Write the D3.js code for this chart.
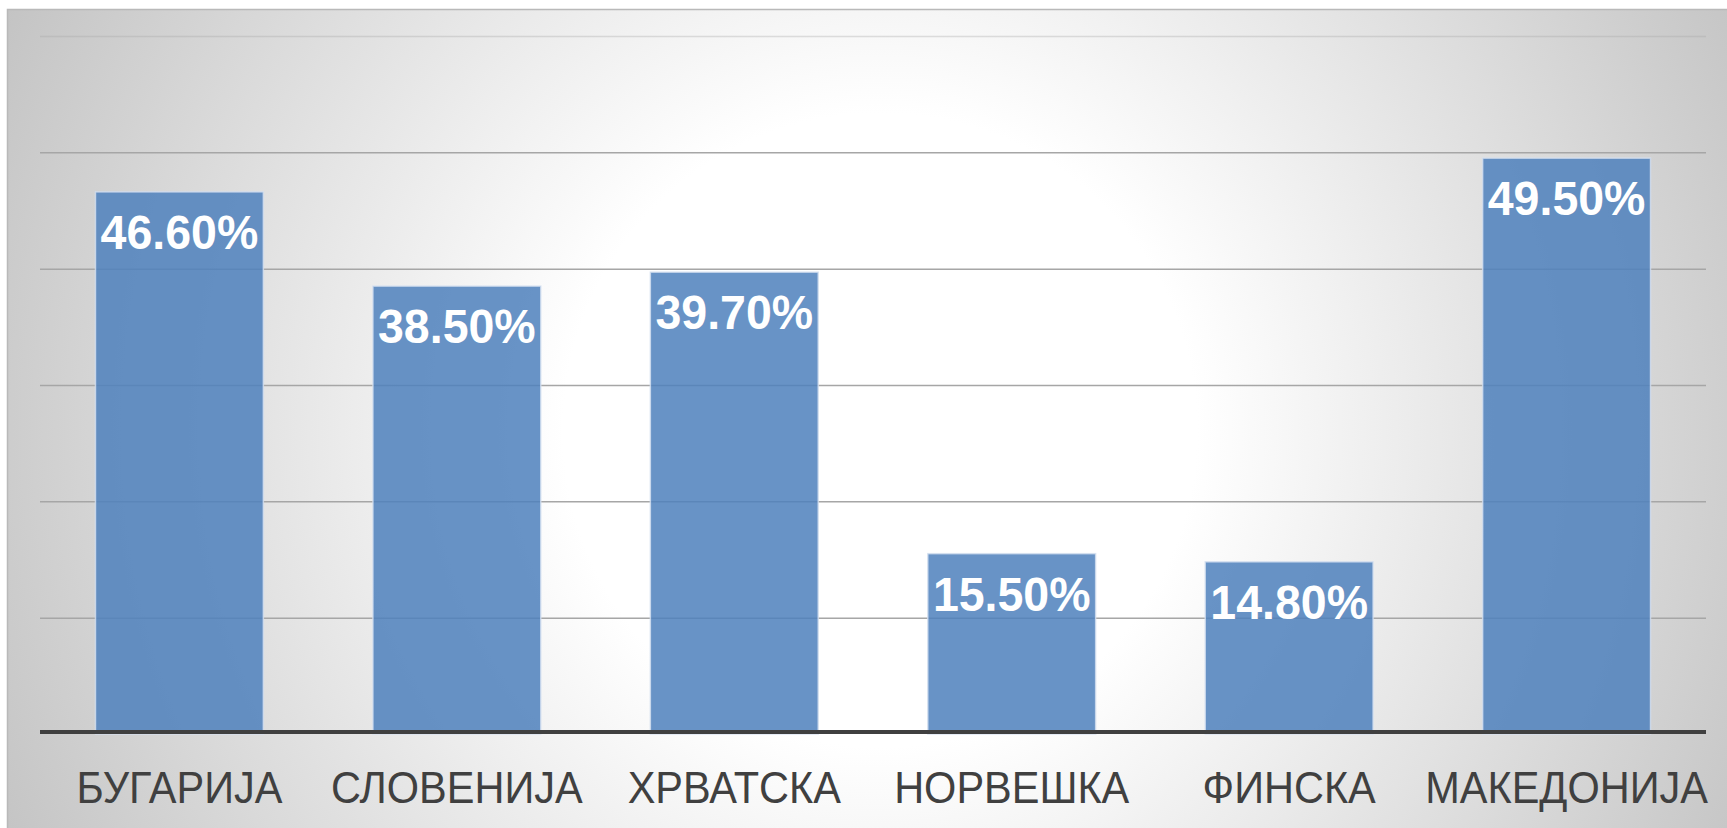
<!DOCTYPE html>
<html>
<head>
<meta charset="utf-8">
<script src="https://cdn.jsdelivr.net/npm/d3@7"></script>
<style>
  html, body { margin: 0; padding: 0; background: #ffffff; overflow: hidden; }
  svg { display: block; }
</style>
</head>
<body>
<svg id="chart" width="1727" height="828"></svg>
<script>
const categories = ["БУГАРИЈА", "СЛОВЕНИЈА", "ХРВАТСКА", "НОРВЕШКА", "ФИНСКА", "МАКЕДОНИЈА"];
const values = [46.6, 38.5, 39.7, 15.5, 14.8, 49.5];
const valueLabels = ["46.60%", "38.50%", "39.70%", "15.50%", "14.80%", "49.50%"];
const yTicks = [0, 10, 20, 30, 40, 50, 60];

const W = 1727, H = 828;
const svg = d3.select("#chart");

// background with radial glow
const defs = svg.append("defs");
const grad = defs.append("radialGradient")
  .attr("id", "bg").attr("gradientUnits", "userSpaceOnUse")
  .attr("cx", 880).attr("cy", 430).attr("r", 990);
grad.append("stop").attr("offset", 0).attr("stop-color", "#ffffff");
grad.append("stop").attr("offset", 0.32).attr("stop-color", "#ffffff");
grad.append("stop").attr("offset", 1).attr("stop-color", "#c2c2c2");

svg.append("rect")
  .attr("x", 7.5).attr("y", 9.5).attr("width", W).attr("height", H)
  .attr("fill", "url(#bg)").attr("stroke", "#b9b9b9").attr("stroke-width", 1.5);

const margin = { left: 40, right: 21, top: 36, bottom: 94 };
const x = d3.scaleBand().domain(categories)
  .range([margin.left, W - margin.right])
  .paddingInner(0.395).paddingOuter(0.2);
const y = d3.scaleLinear().domain([0, 60]).range([734, 36]);

// gridlines
const grid = svg.append("g")
  .attr("transform", `translate(${margin.left},0)`)
  .call(d3.axisLeft(y).tickValues(yTicks.slice(1)).tickSize(-(W - margin.right - margin.left)).tickFormat(""));
grid.select(".domain").remove();
grid.selectAll(".tick line")
  .attr("stroke", "#a6a6a6").attr("stroke-width", 1.5)
  .attr("stroke-opacity", d => d === 60 ? 0.35 : 1);

// bars
svg.append("g").selectAll("rect").data(values).join("rect")
  .attr("x", (d, i) => x(categories[i]))
  .attr("y", d => y(d))
  .attr("width", x.bandwidth())
  .attr("height", d => y(0) - y(d))
  .attr("fill", "#4f81bd").attr("fill-opacity", 0.86)
  .attr("stroke", "#d4e0f0").attr("stroke-width", 1.5).attr("stroke-opacity", 0.8);

// value labels
svg.append("g").selectAll("text").data(values).join("text")
  .attr("transform", (d, i) => `translate(${x(categories[i]) + x.bandwidth() / 2},${y(d) + 57}) scale(1,1.04)`)
  .attr("text-anchor", "middle")
  .attr("font-family", "'Liberation Sans', Arial, sans-serif")
  .attr("font-weight", "bold")
  .attr("font-size", 46.5)
  .attr("fill", "#ffffff")
  .text((d, i) => valueLabels[i]);

// category axis
const xAxis = svg.append("g")
  .attr("transform", "translate(0,732)")
  .call(d3.axisBottom(x).tickSize(0).tickPadding(0));
xAxis.select(".domain")
  .attr("stroke", "#404040").attr("stroke-width", 4)
  .attr("d", `M${margin.left},0H${W - margin.right}`);
xAxis.selectAll(".tick text")
  .attr("y", 0).attr("dy", 0)
  .attr("transform", "translate(0,71) scale(1,1.05)")
  .attr("font-family", "'Liberation Sans', Arial, sans-serif")
  .attr("font-size", 41.5)
  .attr("fill", "#404040");
</script>
</body>
</html>
